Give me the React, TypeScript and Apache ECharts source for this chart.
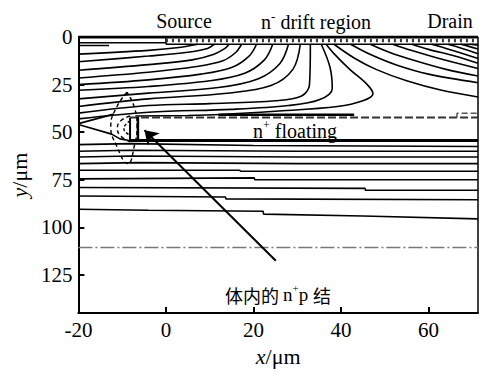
import React, { useEffect, useRef } from "react";
import * as echarts from "echarts";

// axes
const X_MIN = -20;
const X_MAX = 71.3;
const Y_MIN = 0;
const Y_MAX = 145;
const xTicks = [-20, 0, 20, 40, 60];
const yTicks = [0, 25, 50, 75, 100, 125];

// device surface (source contact, oxide)
const topBorder = [[-20, 0], [71.3, 0]];
const sourceBottom = [[-20, 3], [0, 3]];
const sourceEdge = [[0, 0], [0, 3.8]];
const oxideBottom = [[0, 3.8], [71.3, 3.8]];
const oxideHatch = [[0, 1.9], [71.3, 1.9]];
const shortTop = [[-20, 4.5], [-13, 4.5]];
const rightBorder = [[71.3, 0], [71.3, 145]];

// equipotential lines, source side (left edge -> surface)
const f1 = [[-20, 9], [-4, 7], [3, 5.5], [7.3, 3.8]];
const f2 = [[-20, 13], [-4, 10], [5, 8], [9.5, 6], [11.1, 3.8]];
const f3 = [[-20, 17.5], [-4, 14.5], [6, 12], [11, 9], [13.5, 6], [14.4, 3.8]];
const f4 = [[-20, 21.5], [-4, 18.5], [7, 15.5], [13, 12.5], [16, 8], [17.3, 3.8]];
const f5 = [[-20, 25], [-4, 22.5], [8, 19.5], [15, 16], [19, 10], [20.7, 3.8]];
const f6 = [[-20, 28], [-4, 26], [10, 23], [18, 19], [22.5, 12], [24.4, 3.8]];
const f7 = [[-20, 32.5], [-4, 29.5], [12, 26.5], [21, 22], [26, 14], [28, 3.8]];
const f8 = [[-20, 36.5], [-4, 32.5], [14, 29.5], [24, 25.5], [29, 17], [30.7, 3.8]];
const f9 = [[-20, 40], [-4, 36], [10, 35], [25, 33.5], [31, 31], [32.8, 25], [33, 3.8]];
const f10 = [[-20, 43], [-4, 39.5], [15, 38], [28, 36], [35, 33], [38, 27], [37.5, 16], [35.5, 3.8]];
const nose = [[-7, 41.5], [5, 41.2], [12.5, 40.7], [25, 39], [39.2, 36.5], [45, 33.5], [47.3, 29.8], [46, 25], [42, 17], [38.5, 9], [36.6, 3.8]];

// equipotential lines, drain side (surface -> right edge)
const r1 = [[38.4, 3.8], [43, 11], [48, 17], [55, 23], [63, 28], [71.3, 31.5]];
const r2 = [[42.2, 3.8], [47, 9.5], [53, 15], [60, 19.5], [71.3, 24]];
const r3 = [[46.7, 3.8], [51, 8], [57, 12.5], [64, 17], [71.3, 20.5]];
const r4 = [[51.8, 3.8], [56, 7], [62, 11], [71.3, 16.5]];
const r5 = [[56.2, 3.8], [60, 6.5], [66, 10], [71.3, 13.8]];
const r6 = [[60.7, 3.8], [64, 6], [71.3, 11.3]];
const r7 = [[64.4, 3.8], [67, 5.5], [71.3, 8.8]];
const r8 = [[67.3, 3.8], [69, 4.8], [71.3, 6.3]];
const r9 = [[69.5, 3.8], [71.3, 4.3]];

// n+ floating layer
const floatTop = [[-8.2, 42.3], [71.3, 42.3]];
const floatTopThick = [[12, 40.8], [43, 40.8]];
const floatBottom = [[-8.2, 54.3], [71.3, 54.3]];
const floatLeft = [[-8.2, 42.3], [-8.2, 54.3]];
const floatLeftInner = [[-6.4, 42], [-6.4, 55]];
const floatStep = [[66.5, 42.3], [66.5, 40], [71.3, 40]];

// junction region
const apexUpper = [[-20, 45.5], [-11.9, 40.5]];
const apexLower = [[-20, 46], [-12.4, 51], [-10.5, 53.5], [-8.2, 54.5]];
const ellipseOuter = [[-8.9, 29], [-11.3, 37], [-12.6, 47], [-11.3, 57], [-8.7, 66.5], [-7.2, 57], [-6.6, 47], [-7.2, 37], [-8.9, 29]];
const arcInner1 = [[-8.2, 41.5], [-10.3, 44], [-11.1, 48], [-10.3, 52], [-8.2, 55]];
const arcInner2 = [[-8.2, 44], [-9.2, 46], [-9.6, 48], [-9.2, 50], [-8.2, 51.5]];

// lines below the floating layer
const l1 = [[-20, 56.5], [-8, 56], [20, 57], [71.3, 57.5]];
const l2 = [[-20, 60], [-8, 59.5], [30, 60], [71.3, 60]];
const l3 = [[-20, 63], [-8, 62.5], [30, 63], [71.3, 63]];
const l4 = [[-20, 66.5], [-6, 66], [30, 66.5], [71.3, 66.5]];
const l5 = [[-20, 70], [16.9, 70], [17, 70.5], [71.3, 70.5]];
const l6 = [[-20, 74.5], [20.2, 74], [20.3, 75], [71.3, 75]];
const l7 = [[-20, 79], [45.5, 79.5], [45.6, 80.5], [71.3, 80.5]];
const l8 = [[-20, 83.5], [13.6, 84], [13.7, 85], [71.3, 85.5]];
const l9 = [[-20, 90.5], [-4, 91], [22.2, 91.5], [22.3, 93], [45, 94], [71.3, 95.5]];
const dashDot = [[-20, 110.5], [71.3, 110.5]];

// arrow: tail -> head
const arrowLine = [[25.1, 117.5], [-4.9, 49]];

const SERIF = "Liberation Serif";
const CJK = "Noto Sans CJK SC";

function ln(data: number[][], width = 1.6, opts: any = {}) {
  return {
    type: "line",
    data,
    showSymbol: false,
    symbol: "none",
    silent: true,
    smooth: opts.smooth ?? 0,
    lineStyle: {
      color: opts.color ?? "#000",
      width,
      type: opts.type ?? "solid",
    },
    z: opts.z ?? 2,
  };
}

export default function App() {
  const ref = useRef<HTMLDivElement>(null);
  useEffect(() => {
    if (!ref.current) return;
    const chart = echarts.init(ref.current, null, { renderer: "svg" });
    const curve = { smooth: 0.35 };
    const series: any[] = [
      ln(topBorder, 3),
      ln(sourceBottom, 1.5),
      ln(sourceEdge, 1.5),
      ln(oxideBottom, 1.6),
      ln(oxideHatch, 3.5, { type: [2, 4], color: "#333" }),
      ln(shortTop, 1.5),
      ln(rightBorder, 1.5),
      ...[f1, f2, f3, f4, f5, f6, f7, f8, f9, f10, nose].map((d) => ln(d, 1.6, curve)),
      ...[r1, r2, r3, r4, r5, r6, r7, r8, r9].map((d) => ln(d, 1.6, curve)),
      ln(floatTop, 2, { type: [8, 3], color: "#333" }),
      ln(floatTopThick, 2.5),
      ln(floatBottom, 3),
      ln(floatLeft, 2),
      ln(floatLeftInner, 2.5),
      ln(floatStep, 1.5, { type: [6, 3], color: "#555" }),
      ln(apexUpper, 1.6),
      ln(apexLower, 1.6),
      ln(ellipseOuter, 1.4, { smooth: 0.5, type: [4, 3] }),
      ln(arcInner1, 1.4, { smooth: 0.5, type: [4, 3] }),
      ln(arcInner2, 1.4, { smooth: 0.5, type: [3, 2] }),
      ...[l1, l2, l3, l4, l5, l6, l7, l8, l9].map((d) => ln(d, 1.6)),
      ln(dashDot, 1.5, { type: [14, 3, 2, 3], color: "#777" }),
      {
        type: "lines",
        coordinateSystem: "cartesian2d",
        silent: true,
        data: [{ coords: arrowLine }],
        symbol: ["none", "arrow"],
        symbolSize: 13,
        lineStyle: { color: "#000", width: 2, opacity: 1, curveness: 0 },
        z: 5,
      },
    ];
    const labelStyle = { fontFamily: SERIF, fontSize: 20, fill: "#000" };
    const nameRich = {
      i: { fontStyle: "italic", fontFamily: SERIF, fontSize: 22, color: "#000" },
      r: { fontFamily: SERIF, fontSize: 22, color: "#000" },
    };
    const tickLabel = { fontFamily: SERIF, fontSize: 21, color: "#000", margin: 6 };
    chart.setOption({
      animation: false,
      backgroundColor: "#fff",
      textStyle: { fontFamily: SERIF, color: "#000" },
      grid: { left: 67, right: 4, top: 37, bottom: 45, containLabel: false },
      xAxis: {
        type: "value",
        min: X_MIN,
        max: X_MAX,
        interval: 20,
        position: "bottom",
        name: "{i|x}{r|/μm}",
        nameLocation: "middle",
        nameGap: 29,
        nameTextStyle: { fontFamily: SERIF, fontSize: 22, color: "#000", rich: nameRich },
        axisLine: { show: true, onZero: false, lineStyle: { color: "#000", width: 2 } },
        axisTick: { show: true, inside: true, length: 6, lineStyle: { color: "#000", width: 2 }, customValues: xTicks },
        axisLabel: { ...tickLabel, customValues: xTicks },
        splitLine: { show: false },
      },
      yAxis: {
        type: "value",
        inverse: true,
        min: Y_MIN,
        max: Y_MAX,
        interval: 25,
        position: "left",
        name: "{i|y}{r|/μm}",
        nameLocation: "middle",
        nameGap: 37,
        nameTextStyle: { fontFamily: SERIF, fontSize: 22, color: "#000", rich: nameRich },
        axisLine: { show: true, onZero: false, lineStyle: { color: "#000", width: 2 } },
        axisTick: { show: true, inside: true, length: 6, lineStyle: { color: "#000", width: 2 }, customValues: yTicks },
        axisLabel: { ...tickLabel, customValues: yTicks },
        splitLine: { show: false },
      },
      series,
      graphic: [
        { type: "text", x: 184, y: 21, style: { ...labelStyle, text: "Source", align: "center", verticalAlign: "middle" } },
        {
          type: "text",
          x: 316,
          y: 21,
          style: {
            text: "{a|n}{s|-}{a| drift region}",
            fontFamily: SERIF,
            fontSize: 20,
            align: "center",
            verticalAlign: "middle",
            rich: {
              a: { fontFamily: SERIF, fontSize: 20, color: "#000", lineHeight: 22, verticalAlign: "bottom" },
              s: { fontFamily: SERIF, fontSize: 13, color: "#000", lineHeight: 22, verticalAlign: "top" },
            },
          },
        },
        { type: "text", x: 450, y: 21, style: { ...labelStyle, text: "Drain", align: "center", verticalAlign: "middle" } },
        {
          type: "text",
          x: 295,
          y: 130,
          z: 10,
          style: {
            text: "{a|n}{s|+}{a| floating}",
            fontFamily: SERIF,
            fontSize: 20,
            align: "center",
            verticalAlign: "middle",
            rich: {
              a: { fontFamily: SERIF, fontSize: 20, color: "#000", lineHeight: 22, verticalAlign: "bottom" },
              s: { fontFamily: SERIF, fontSize: 12, color: "#000", lineHeight: 22, verticalAlign: "top" },
            },
          },
        },
        {
          type: "text",
          x: 278,
          y: 293,
          style: {
            text: "{c|体内的 }{a|n}{s|+}{a|p }{c|结}",
            fontFamily: SERIF,
            fontSize: 19,
            align: "center",
            verticalAlign: "middle",
            rich: {
              c: { fontFamily: CJK, fontSize: 18, color: "#000", lineHeight: 22, verticalAlign: "bottom" },
              a: { fontFamily: SERIF, fontSize: 19, color: "#000", lineHeight: 22, verticalAlign: "bottom" },
              s: { fontFamily: SERIF, fontSize: 11, color: "#000", lineHeight: 22, verticalAlign: "top" },
            },
          },
        },
      ],
    });
    return () => chart.dispose();
  }, []);
  return (
    <div
      ref={ref}
      style={{ position: "absolute", left: 0, top: 0, width: 482, height: 372, background: "#fff" }}
    />
  );
}
